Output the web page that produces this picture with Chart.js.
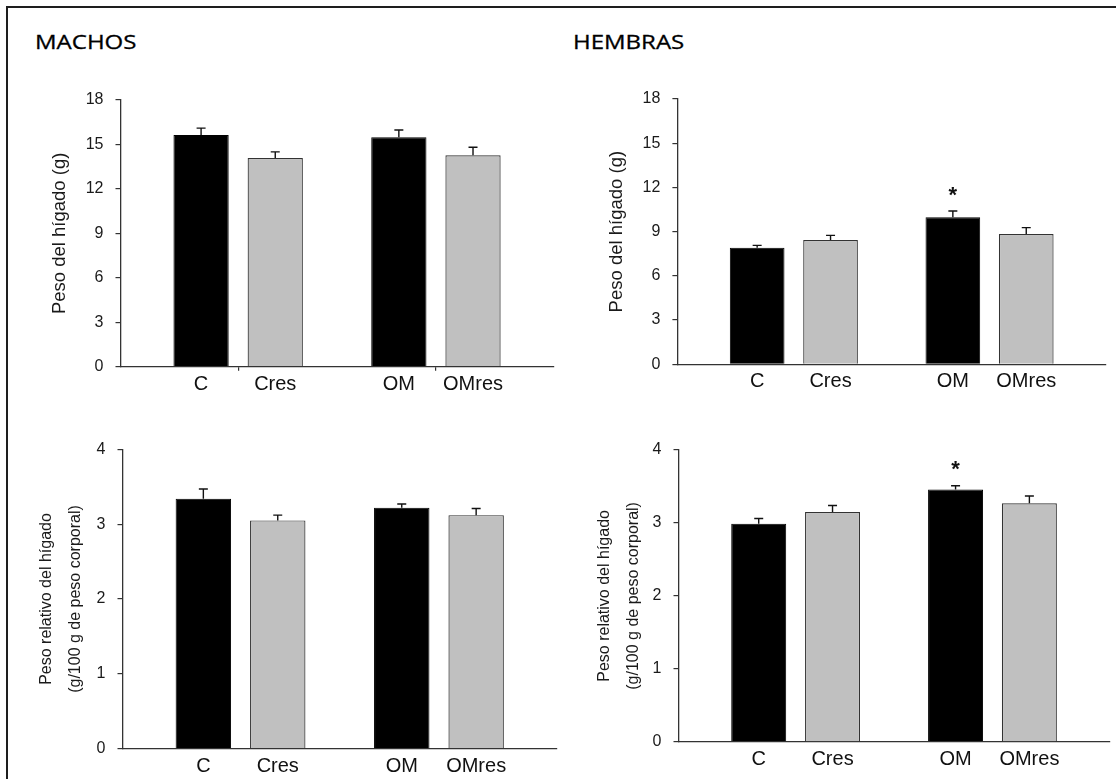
<!DOCTYPE html>
<html>
<head>
<meta charset="utf-8">
<script src="https://cdn.jsdelivr.net/npm/chart.js@4.4.1/dist/chart.umd.min.js"></script>
<style>
html,body{margin:0;padding:0;background:#fff;}
#page{position:relative;width:1116px;height:779px;overflow:hidden;background:#fff;}
.frame-top{position:absolute;left:6px;top:6px;width:1110px;height:2px;background:#1e1e1e;}
.frame-left{position:absolute;left:6px;top:6px;width:2px;height:773px;background:#1e1e1e;}
.sex{position:absolute;font-family:'Open Sans',sans-serif;font-size:20px;color:#000;white-space:nowrap;transform:scaleX(1.2);transform-origin:left top;line-height:normal;-webkit-text-stroke:0.3px #000;}
canvas{position:absolute;}
</style>
</head>
<body>
<div id="page">
  <div class="frame-top"></div>
  <div class="frame-left"></div>
  <div class="sex" style="left:35px;top:28px">MACHOS</div>
  <div class="sex" style="left:573px;top:28px">HEMBRAS</div>
  <canvas id="c1" width="558" height="340" style="left:0;top:60px"></canvas>
  <canvas id="c2" width="558" height="340" style="left:558px;top:60px"></canvas>
  <canvas id="c3" width="558" height="379" style="left:0;top:400px"></canvas>
  <canvas id="c4" width="558" height="379" style="left:558px;top:400px"></canvas>
</div>
<script>
// ---------- data ----------
const barLabels = ['C', 'Cres', 'OM', 'OMres'];
const groupIndex = [0, 1];              // C/Cres group, OM/OMres group
const groupRange = [-0.595, 1.595];     // x-axis extent in group units

const machosPeso      = [15.64, 14.09, 15.49, 14.27];
const machosPesoSEM   = [0.46, 0.41, 0.49, 0.54];
const hembrasPeso     = [7.91, 8.43, 9.97, 8.84];
const hembrasPesoSEM  = [0.16, 0.32, 0.43, 0.43];
const machosRel       = [3.34, 3.05, 3.22, 3.12];
const machosRelSEM    = [0.13, 0.07, 0.05, 0.09];
const hembrasRel      = [2.99, 3.15, 3.46, 3.27];
const hembrasRelSEM   = [0.07, 0.09, 0.05, 0.10];
const machosSig       = ['', '', '', ''];
const hembrasSig      = ['', '', '*', ''];

const pesoTicks = {min: 0, max: 18, step: 3};
const relTicks  = {min: 0, max: 4, step: 1};
const pesoTitle = 'Peso del hígado (g)';
const relTitle  = ['Peso relativo del hígado', '(g/100 g de peso corporal)'];

// ---------- drawing ----------
const FONT = '"Liberation Sans", Arial, sans-serif';
Chart.defaults.font.family = FONT;

const errorPlugin = {
  id: 'errbars',
  afterDatasetsDraw(chart) {
    const ctx = chart.ctx, ys = chart.scales.y, area = chart.chartArea;
    chart.data.datasets.forEach((ds, di) => {
      const meta = chart.getDatasetMeta(di);
      meta.data.forEach((bar, i) => {
        const top = ys.getPixelForValue(ds.data[i].y + ds.sem[i]);
        ctx.save();
        ctx.strokeStyle = '#111';
        ctx.lineWidth = 1.4;
        ctx.beginPath();
        ctx.moveTo(bar.x, bar.y);
        ctx.lineTo(bar.x, top);
        ctx.moveTo(bar.x - 4.5, top);
        ctx.lineTo(bar.x + 4.5, top);
        ctx.stroke();
        ctx.fillStyle = '#111';
        ctx.textAlign = 'center';
        ctx.textBaseline = 'alphabetic';
        ctx.font = '20px ' + FONT;
        ctx.fillText(ds.names[i], bar.x, area.bottom + 23);
        if (ds.sig[i]) {
          ctx.font = 'bold 22px ' + FONT;
          ctx.fillText(ds.sig[i], bar.x, top - 9.5);
        }
        ctx.restore();
      });
    });
  }
};

function makeChart(p) {
  const canvas = document.getElementById(p.id);
  const W = canvas.width, H = canvas.height;
  const a = p.area;
  const xH = 10;
  const pick = (arr, k) => [arr[k], arr[k + 2]];
  const mk = (k, fill, border, bw) => ({
    data: groupIndex.map((g, j) => ({x: g, y: p.values[k + 2 * j]})),
    sem: pick(p.sem, k),
    names: pick(barLabels, k),
    sig: pick(p.sig, k),
    backgroundColor: fill,
    borderColor: border,
    borderWidth: bw,
    categoryPercentage: 0.75,
    barPercentage: 0.745
  });
  new Chart(canvas, {
    type: 'bar',
    data: {datasets: [mk(0, '#000000', '#000000', 1), mk(1, '#c0c0c0', '#333333', 1.2)]},
    options: {
      responsive: false, animation: false, devicePixelRatio: 1, events: [],
      layout: {padding: {left: p.titleLeft, right: W - a.right, top: a.top, bottom: H - a.bottom - xH}},
      plugins: {legend: {display: false}, tooltip: {enabled: false}},
      scales: {
        x: {
          type: 'linear', min: groupRange[0], max: groupRange[1], offset: false, bounds: 'data',
          afterBuildTicks: s => { s.ticks = groupIndex.map(v => ({value: v})); },
          afterFit: s => { s.height = xH; },
          ticks: {display: false},
          grid: {display: p.groupTickMarks, offset: false, drawOnChartArea: false, drawTicks: true, tickLength: 4, tickColor: '#333', lineWidth: 1.2},
          border: {display: true, color: '#333', width: 1.3}
        },
        y: {
          min: p.ticks.min, max: p.ticks.max,
          ticks: {stepSize: p.ticks.step, font: {size: 16}, color: '#1a1a1a', padding: 12},
          afterFit: s => { s.width = a.left - p.titleLeft; },
          grid: {display: true, drawOnChartArea: false, drawTicks: true, tickLength: 5, tickColor: '#333', lineWidth: 1.2},
          border: {display: true, color: '#333', width: 1.3},
          title: {display: true, text: p.title, color: '#1a1a1a',
                  font: {size: p.titleSize, lineHeight: p.titleLH + 'px'}, padding: {top: 0, bottom: 0}}
        }
      }
    },
    plugins: [errorPlugin]
  });
}

const panels = [
  {id: 'c1', values: machosPeso, sem: machosPesoSEM, sig: machosSig, ticks: pesoTicks, title: pesoTitle,
   titleSize: 18.5, titleLH: 22.2, titleLeft: 49, groupTickMarks: true,
   area: {left: 120.5, right: 553.6, top: 40, bottom: 306.7}},
  {id: 'c2', values: hembrasPeso, sem: hembrasPesoSEM, sig: hembrasSig, ticks: pesoTicks, title: pesoTitle,
   titleSize: 18.5, titleLH: 22.2, titleLeft: 48, groupTickMarks: false,
   area: {left: 119.4, right: 548, top: 39, bottom: 304.3}},
  {id: 'c3', values: machosRel, sem: machosRelSEM, sig: machosSig, ticks: relTicks, title: relTitle,
   titleSize: 16, titleLH: 29, titleLeft: 32, groupTickMarks: false,
   area: {left: 122.5, right: 557, top: 49.3, bottom: 348.7}},
  {id: 'c4', values: hembrasRel, sem: hembrasRelSEM, sig: hembrasSig, ticks: relTicks, title: relTitle,
   titleSize: 16, titleLH: 29, titleLeft: 32.5, groupTickMarks: false,
   area: {left: 120.5, right: 551.6, top: 50, bottom: 341.8}}
];
panels.forEach(makeChart);
</script>
</body>
</html>
